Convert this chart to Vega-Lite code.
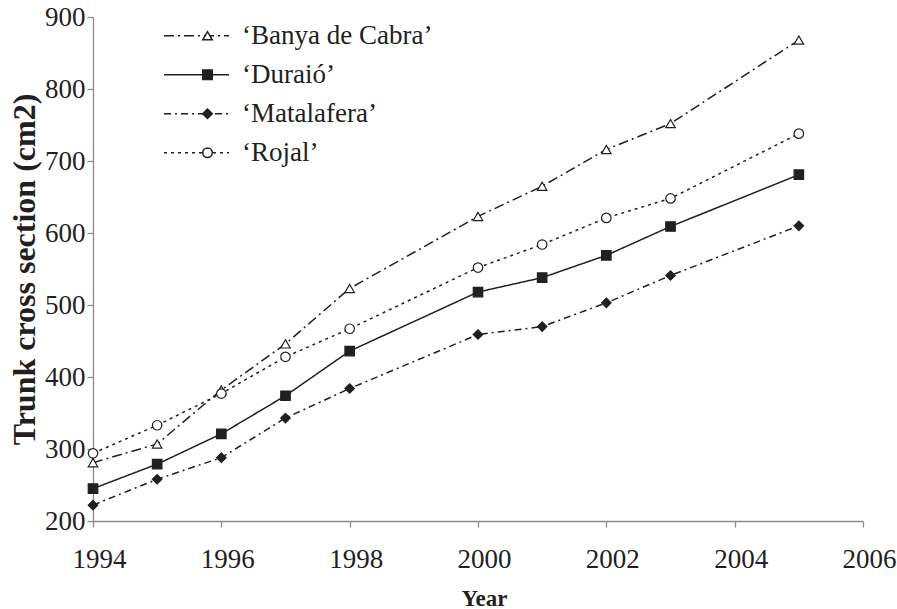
{
  "$schema": "https://vega.github.io/schema/vega-lite/v6.json",
  "width": 770,
  "height": 504,
  "autosize": {"type": "none"},
  "padding": {"left": 93, "top": 17, "right": 34, "bottom": 88},
  "background": "white",
  "config": {
    "view": {"stroke": null},
    "font": "Liberation Serif",
    "axis": {"labelFont": "Liberation Serif", "titleFont": "Liberation Serif"},
    "legend": {"labelFont": "Liberation Serif", "titleFont": "Liberation Serif"}
  },
  "data": {
    "values": [
      {"series": "‘Banya de Cabra’", "year": 1994, "value": 281},
      {"series": "‘Banya de Cabra’", "year": 1995, "value": 307},
      {"series": "‘Banya de Cabra’", "year": 1996, "value": 382},
      {"series": "‘Banya de Cabra’", "year": 1997, "value": 446},
      {"series": "‘Banya de Cabra’", "year": 1998, "value": 523},
      {"series": "‘Banya de Cabra’", "year": 2000, "value": 623},
      {"series": "‘Banya de Cabra’", "year": 2001, "value": 665},
      {"series": "‘Banya de Cabra’", "year": 2002, "value": 716},
      {"series": "‘Banya de Cabra’", "year": 2003, "value": 752},
      {"series": "‘Banya de Cabra’", "year": 2005, "value": 868},
      {"series": "‘Duraió’", "year": 1994, "value": 245},
      {"series": "‘Duraió’", "year": 1995, "value": 279},
      {"series": "‘Duraió’", "year": 1996, "value": 321},
      {"series": "‘Duraió’", "year": 1997, "value": 374},
      {"series": "‘Duraió’", "year": 1998, "value": 436},
      {"series": "‘Duraió’", "year": 2000, "value": 518},
      {"series": "‘Duraió’", "year": 2001, "value": 538},
      {"series": "‘Duraió’", "year": 2002, "value": 569},
      {"series": "‘Duraió’", "year": 2003, "value": 609},
      {"series": "‘Duraió’", "year": 2005, "value": 681},
      {"series": "‘Matalafera’", "year": 1994, "value": 222},
      {"series": "‘Matalafera’", "year": 1995, "value": 258},
      {"series": "‘Matalafera’", "year": 1996, "value": 288},
      {"series": "‘Matalafera’", "year": 1997, "value": 343},
      {"series": "‘Matalafera’", "year": 1998, "value": 384},
      {"series": "‘Matalafera’", "year": 2000, "value": 459},
      {"series": "‘Matalafera’", "year": 2001, "value": 470},
      {"series": "‘Matalafera’", "year": 2002, "value": 503},
      {"series": "‘Matalafera’", "year": 2003, "value": 541},
      {"series": "‘Matalafera’", "year": 2005, "value": 610},
      {"series": "‘Rojal’", "year": 1994, "value": 294},
      {"series": "‘Rojal’", "year": 1995, "value": 333},
      {"series": "‘Rojal’", "year": 1996, "value": 377},
      {"series": "‘Rojal’", "year": 1997, "value": 428},
      {"series": "‘Rojal’", "year": 1998, "value": 467},
      {"series": "‘Rojal’", "year": 2000, "value": 552},
      {"series": "‘Rojal’", "year": 2001, "value": 584},
      {"series": "‘Rojal’", "year": 2002, "value": 621},
      {"series": "‘Rojal’", "year": 2003, "value": 648},
      {"series": "‘Rojal’", "year": 2005, "value": 738}
    ]
  },
  "encoding": {
    "x": {
      "field": "year",
      "type": "quantitative",
      "scale": {"domain": [1994, 2006], "nice": false, "zero": false},
      "axis": {
        "values": [1994, 1996, 1998, 2000, 2002, 2004, 2006],
        "format": "d",
        "title": "Year",
        "grid": false,
        "domainColor": "#8c8c8c",
        "domainWidth": 1.3,
        "tickColor": "#8c8c8c",
        "tickWidth": 1.3,
        "tickSize": 6,
        "labelFont": "Liberation Serif",
        "labelFontSize": 27,
        "labelColor": "#231f20",
        "labelPadding": 19,
        "labelOffset": 6,
        "labelFlush": false,
        "labelOverlap": false,
        "titleFont": "Liberation Serif",
        "titleFontSize": 23,
        "titleFontWeight": "bold",
        "titleColor": "#231f20",
        "titleBaseline": "middle",
        "titleX": 391,
        "titleY": 77
      }
    },
    "y": {
      "field": "value",
      "type": "quantitative",
      "scale": {"domain": [200, 900], "nice": false, "zero": false},
      "axis": {
        "values": [200, 300, 400, 500, 600, 700, 800, 900],
        "title": "Trunk cross section (cm2)",
        "grid": false,
        "domainColor": "#8c8c8c",
        "domainWidth": 1.3,
        "tickColor": "#8c8c8c",
        "tickWidth": 1.3,
        "tickSize": 6,
        "labelFont": "Liberation Serif",
        "labelFontSize": 27,
        "labelColor": "#231f20",
        "labelPadding": 2,
        "labelFlush": false,
        "labelOverlap": false,
        "titleFont": "Liberation Serif",
        "titleFontSize": 32,
        "titleFontWeight": "bold",
        "titleColor": "#231f20",
        "titleBaseline": "middle",
        "titleX": -69,
        "titleY": 252
      }
    }
  },
  "layer": [
    {
      "mark": {"type": "line", "color": "#231f20", "strokeWidth": 1.5},
      "encoding": {
        "strokeDash": {
          "field": "series",
          "type": "nominal",
          "scale": {
            "domain": ["‘Banya de Cabra’", "‘Duraió’", "‘Matalafera’", "‘Rojal’"],
            "range": [[10, 4, 2, 4], [1, 0], [7, 4, 2, 4], [3, 4]]
          },
          "legend": {
            "title": null,
            "orient": "none",
            "legendX": 70,
            "legendY": 0,
            "padding": 0,
            "symbolType": "stroke",
            "symbolSize": 4225,
            "symbolStrokeWidth": 1.5,
            "labelFontSize": 27,
            "labelFont": "Liberation Serif",
            "labelColor": "#231f20",
            "labelOffset": 12,
            "labelLimit": 400,
            "clipHeight": 37.5,
            "rowPadding": 1
          }
        }
      }
    },
    {
      "mark": {"type": "point", "filled": true, "opacity": 1, "size": 90, "stroke": "#231f20", "strokeWidth": 1.2},
      "encoding": {
        "shape": {
          "field": "series",
          "type": "nominal",
          "scale": {"range": ["triangle-up", "square", "diamond", "circle"]},
          "legend": {
            "title": null,
            "orient": "none",
            "legendX": 101,
            "legendY": 0,
            "padding": 0,
            "symbolSize": 90,
            "labelFontSize": 27,
            "labelExpr": "''",
            "labelOffset": 0,
            "clipHeight": 37.5,
            "rowPadding": 1,
            "zindex": 1
          }
        },
        "fill": {
          "field": "series",
          "type": "nominal",
          "scale": {"range": ["white", "#231f20", "#231f20", "white"]},
          "legend": {
            "title": null,
            "orient": "none",
            "legendX": 101,
            "legendY": 0,
            "padding": 0,
            "symbolSize": 90,
            "labelFontSize": 27,
            "labelExpr": "''",
            "labelOffset": 0,
            "clipHeight": 37.5,
            "rowPadding": 1,
            "zindex": 1
          }
        }
      }
    }
  ]
}
